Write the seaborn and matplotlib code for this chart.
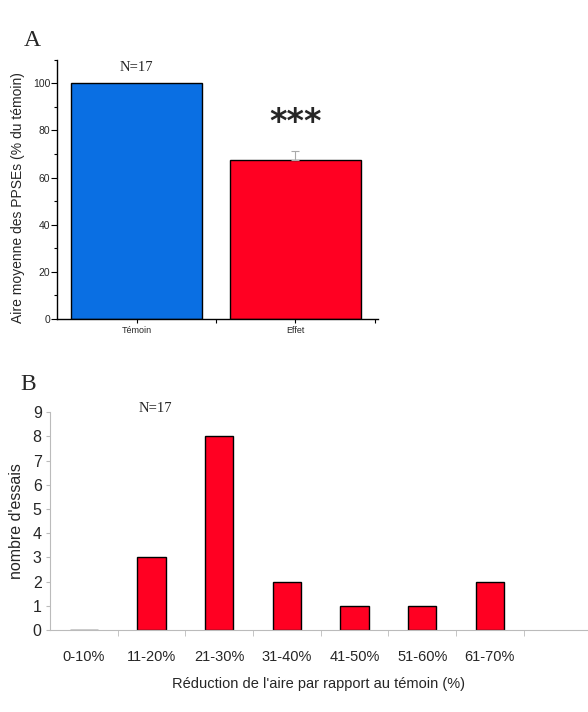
import matplotlib
matplotlib.use("Agg")
import matplotlib.pyplot as plt
import seaborn as sns
import pandas as pd
from matplotlib.ticker import MultipleLocator, FixedLocator

# data panel A
groupes = ["Témoin", "Effet"]
aire_moy = [100, 67.5]
aire_err = [0, 4.0]
couleurs_a = ["#0a6fe3", "#ff0022"]

# data panel B
classes = ["0-10%", "11-20%", "21-30%", "31-40%", "41-50%", "51-60%", "61-70%"]
nb_essais = [0, 3, 8, 2, 1, 1, 2]

sns.set_style("ticks")
plt.rcParams["font.family"] = ["Liberation Sans", "DejaVu Sans"]

fig = plt.figure(figsize=(5.88, 7.12), dpi=100)

# ---- panel A
axA = fig.add_axes([0.097, 0.552, 0.546, 0.364])
dfA = pd.DataFrame({"groupe": groupes, "aire": aire_moy})
sns.barplot(data=dfA, x="groupe", y="aire", hue="groupe", palette=couleurs_a,
            saturation=1, width=0.82, edgecolor="black", linewidth=1.0,
            legend=False, ax=axA)
# error bar only on the treated group
axA.errorbar([1], aire_moy[1:], yerr=[[0], aire_err[1:]], fmt="none",
             ecolor="#aaaaaa", elinewidth=0.8, capsize=3, capthick=0.8)
axA.set_xlim(-0.5, 1.52)
axA.set_ylim(0, 110)
axA.yaxis.set_major_locator(MultipleLocator(20))
axA.yaxis.set_minor_locator(MultipleLocator(10))
axA.xaxis.set_minor_locator(FixedLocator([0.5, 1.5]))
for s in ["top", "right"]:
    axA.spines[s].set_visible(False)
for s in ["left", "bottom"]:
    axA.spines[s].set_color("black")
    axA.spines[s].set_linewidth(1.0)
axA.tick_params(axis="both", which="both", direction="out", color="black", width=0.8)
axA.tick_params(axis="y", which="major", length=4, labelsize=7.5, pad=1)
axA.tick_params(axis="y", which="minor", length=2.5)
axA.tick_params(axis="x", which="both", length=3, labelsize=6.5, pad=2)
axA.set_xlabel("")
axA.set_ylabel("Aire moyenne des PPSEs (% du témoin)", fontsize=10)
axA.yaxis.set_label_coords(-0.10, 0.467)
axA.text(0, 104, "N=17", ha="center", va="bottom", fontsize=10.5, family="Liberation Serif")
axA.text(1, 83.5, "***", ha="center", va="center", fontsize=24, fontweight="bold",
         family="DejaVu Sans")
fig.text(0.04, 0.935, "A", fontsize=17, family="Liberation Serif")

# ---- panel B
axB = fig.add_axes([0.085, 0.115, 0.915, 0.306])
dfB = pd.DataFrame({"classe": classes, "n": nb_essais})
sns.barplot(data=dfB, x="classe", y="n", color="#ff0022", saturation=1, width=0.42,
            edgecolor="black", linewidth=1.0, ax=axB)
axB.set_xlim(-0.5, 7.45)
axB.set_ylim(0, 9)
axB.yaxis.set_major_locator(MultipleLocator(1))
axB.xaxis.set_major_locator(FixedLocator(range(len(classes))))
axB.xaxis.set_minor_locator(FixedLocator([i + 0.5 for i in range(len(classes))]))
for s in ["top", "right"]:
    axB.spines[s].set_visible(False)
for s in ["left", "bottom"]:
    axB.spines[s].set_color("#bbbbbb")
    axB.spines[s].set_linewidth(0.8)
axB.tick_params(axis="y", which="major", direction="out", length=3, color="#bbbbbb",
                labelsize=11.5, pad=3)
axB.tick_params(axis="x", which="major", length=0, labelsize=10.5, pad=14)
axB.tick_params(axis="x", which="minor", direction="out", length=4, color="#bbbbbb")
axB.set_xlabel("Réduction de l'aire par rapport au témoin (%)", fontsize=10.5, labelpad=10)
axB.set_ylabel("nombre d'essais", fontsize=11.5)
axB.yaxis.set_label_coords(-0.048, 0.5)
axB.text(1.05, 8.9, "N=17", ha="center", va="bottom", fontsize=10.5, family="Liberation Serif")
fig.text(0.035, 0.452, "B", fontsize=17, family="Liberation Serif")

fig.savefig("out.png", dpi=100)
